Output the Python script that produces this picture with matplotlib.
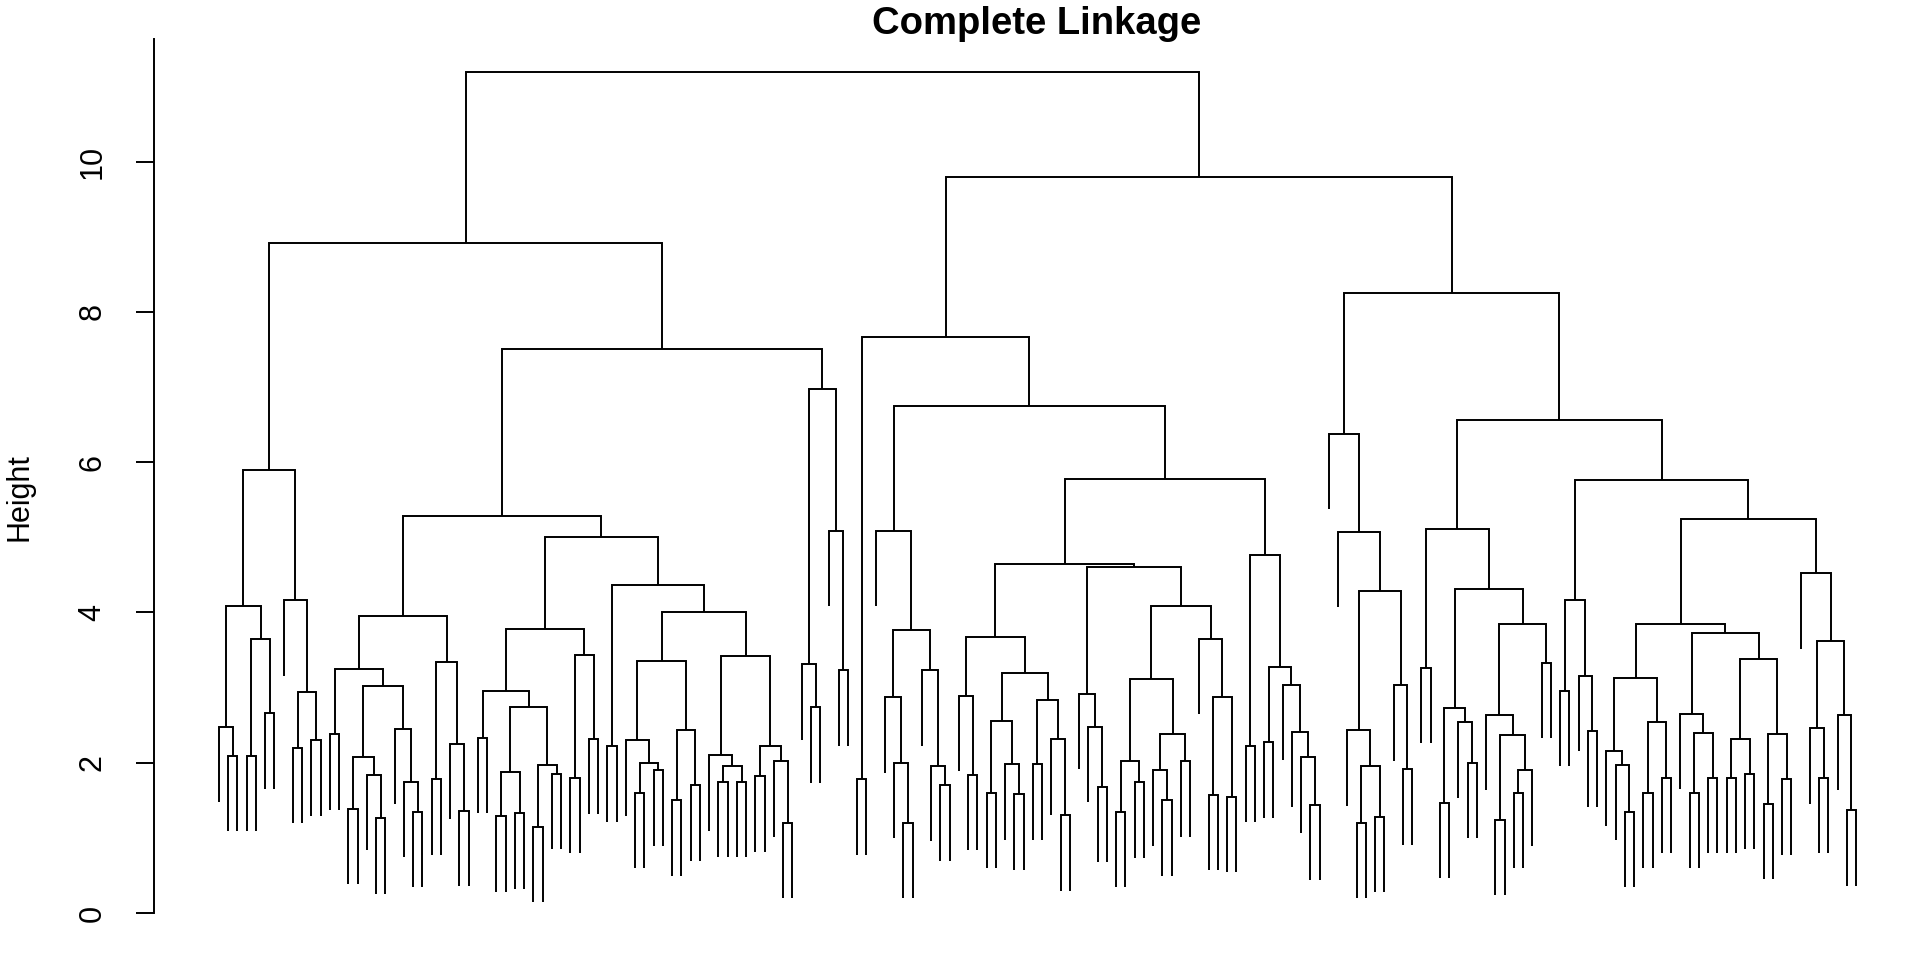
import re
import matplotlib
matplotlib.use("Agg")
import matplotlib.pyplot as plt

plt.rcParams['font.family'] = ['Liberation Sans', 'DejaVu Sans']

title = "Complete Linkage"
y_label = "Height"
y_ticks = [0, 2, 4, 6, 8, 10]

# Sub-trees of the dendrogram: "(left,right)height", "o" is one observation (leaf).
cluster_A = "(((o,(o,o)2.09)2.48,((o,o)2.09,(o,o)2.66)3.64)4.09,(o,((o,o)2.20,(o,o)2.30)2.94)4.16)5.89"
cluster_B1a = "(((o,o)2.38,(((o,o)1.39,(o,(o,o)1.26)1.84)2.07,(o,(o,(o,o)1.35)1.75)2.45)3.02)3.25,((o,o)1.78,(o,(o,o)1.36)2.25)3.34)3.95"
cluster_C = "(((o,o)2.33,(((o,o)1.29,(o,o)1.33)1.87,((o,o)1.15,(o,o)1.85)1.97)2.74)2.95,((o,o)1.80,(o,o)2.32)3.44)3.78"
cluster_D = "((o,o)2.22,(((o,((o,o)1.60,(o,o)1.90)2.00)2.30,((o,o)1.50,(o,o)1.70)2.44)3.36,((o,((o,o)1.75,(o,o)1.75)1.96)2.10,((o,o)1.82,(o,(o,o)1.20)2.02)2.22)3.42)4.00)4.37"
cluster_B2 = "((o,(o,o)2.74)3.31,(o,(o,o)3.23)5.09)6.98"
cluster_S729 = "(o,((o,(o,(o,o)1.20)2.00)2.87,(o,(o,(o,o)1.70)1.96)3.23)3.77)5.09"
cluster_S811 = "((o,(o,o)1.84)2.89,(((o,o)1.60,(o,(o,o)1.58)1.98)2.56,((o,o)1.98,(o,(o,o)1.30)2.31)2.83)3.20)3.67"
cluster_S925 = "((o,(o,(o,o)1.68)2.48)2.92,((((o,o)1.35,(o,o)1.74)2.02,((o,(o,o)1.50)1.90,(o,o)2.02)2.38)3.12,(o,((o,o)1.57,(o,o)1.55)2.88)3.65)4.08)4.60"
cluster_S1033 = "((o,o)2.22,((o,o)2.27,(o,(o,(o,(o,o)1.44)2.07)2.41)3.04)3.28)4.76"
cluster_R1bL = "(o,(o,((o,((o,o)1.20,(o,o)1.28)1.95)2.43,(o,(o,o)1.91)3.03)4.29)5.07)6.38"
cluster_S1215 = "(((o,o)1.47,(o,(o,o)2.00)2.54)2.73,((o,((o,o)1.24,((o,o)1.60,o)1.90)2.37)2.64,(o,o)3.33)3.84)4.31"
cluster_S1284 = "((o,o)2.96,(o,(o,o)2.42)3.16)4.16"
cluster_S1371 = "(((o,(o,(o,o)1.35)1.97)2.16,((o,o)1.60,(o,o)1.80)2.54)3.13,((o,((o,o)1.60,(o,o)1.80)2.40)2.65,(((o,o)1.80,(o,o)1.85)2.31,((o,o)1.45,(o,o)1.78)2.38)3.38)3.73)3.85"
cluster_S1481 = "(o,((o,(o,o)1.80)2.46,(o,(o,o)1.37)2.64)3.62)4.52"

# Upper merges joining the sub-trees
upper_tree = ("((cluster_A,((cluster_B1a,(cluster_C,cluster_D)5.00)5.29,cluster_B2)7.50)8.92,"
              "(((o,o)1.78,(cluster_S729,((cluster_S811,cluster_S925)4.65,cluster_S1033)5.77)6.75)7.67,"
              "(cluster_R1bL,(((o,o)3.26,cluster_S1215)5.11,(cluster_S1284,(cluster_S1371,cluster_S1481)5.24)5.76)6.56)8.25)9.80)11.19")

parts = {k: v for k, v in globals().items() if k.startswith("cluster_")}


def expand(s):
    pat = re.compile(r"cluster_[A-Za-z0-9]+")
    while True:
        new = pat.sub(lambda m: parts[m.group(0)], s)
        if new == s:
            return s
        s = new


def parse(s):
    s = s.replace(" ", "")
    pos = 0

    def node():
        nonlocal pos
        if s[pos] == "o":
            pos += 1
            return None
        assert s[pos] == "("
        pos += 1
        left = node()
        assert s[pos] == ","
        pos += 1
        right = node()
        assert s[pos] == ")"
        pos += 1
        m = re.match(r"[0-9.]+", s[pos:])
        pos += len(m.group(0))
        return (left, right, float(m.group(0)))

    return node()


tree = parse(expand(upper_tree))

heights = []


def collect(n):
    if n is None:
        return
    heights.append(n[2])
    collect(n[0])
    collect(n[1])


collect(tree)
hang = 0.1 * (max(heights) - min(heights))

xs, ys = [], []
counter = [0]


def layout(n, parent_h):
    """returns (x, top_y) of the node"""
    if n is None:
        counter[0] += 1
        return counter[0], parent_h - hang
    xl, yl = layout(n[0], n[2])
    xr, yr = layout(n[1], n[2])
    xs.extend([xl, xl, xr, xr, float("nan")])
    ys.extend([yl, n[2], n[2], yr, float("nan")])
    return (xl + xr) / 2.0, n[2]


layout(tree, tree[2])
n_leaves = counter[0]
leaf_ends = [y for y in ys if y == y]
ymin_data = min(leaf_ends)
ymax_data = max(heights)

fig = plt.figure(figsize=(19.2, 9.6), dpi=100)
ax = fig.add_axes([153.5 / 1920, 0.0258, 1768 / 1920, 0.9336])
ax.plot(xs, ys, color="black", linewidth=1.4, solid_joinstyle="miter", solid_capstyle="butt")

pad_x = 0.04 * (n_leaves - 1)
ax.set_xlim(1 - pad_x, n_leaves + pad_x)
yr = ymax_data - ymin_data
ytop = ymax_data + 0.04 * yr
ax.set_ylim(ymin_data - 0.04 * yr, ytop)

for side in ["top", "right", "bottom"]:
    ax.spines[side].set_visible(False)
ax.spines["left"].set_bounds(0, ytop)
ax.spines["left"].set_linewidth(1.4)
ax.set_xticks([])
ax.set_yticks(y_ticks)
ax.set_yticklabels([str(t) for t in y_ticks], rotation=90, va="center")
ax.tick_params(axis="y", length=13, width=1.4, labelsize=22, pad=20)

fig.text(19.6 / 1920, 1 - 497 / 960, y_label, rotation=90, ha="center", va="center", fontsize=22)
fig.text(1037 / 1920, 1 - 23.5 / 960, title, ha="center", va="center", fontsize=27.5, fontweight="bold")

fig.savefig("out.png", dpi=100)
